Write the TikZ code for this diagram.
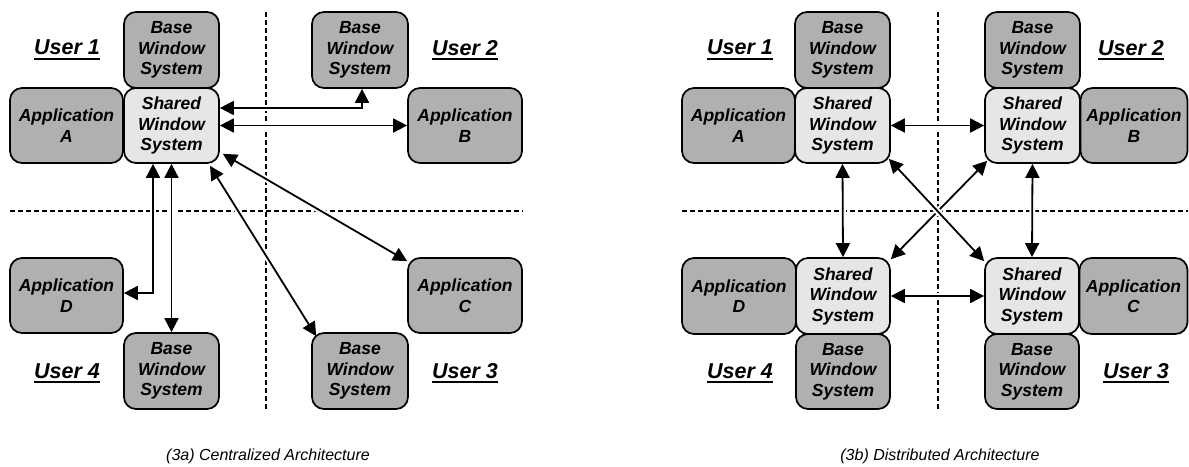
\documentclass[tikz,border=0pt]{standalone}
\usepackage{fontspec}
\setmainfont{Liberation Sans}
\newcommand\ulbox[1]{\setbox0\hbox{#1}\rlap{\raisebox{-4.8pt}{\rule{\wd0}{1.8pt}}}\box0}
\usetikzlibrary{arrows.meta}
\definecolor{boxdark}{RGB}{176,176,176}
\definecolor{boxlight}{RGB}{230,230,230}
\tikzset{
  box/.style={draw=black, line width=1.7pt, rounded corners=12pt, inner sep=0pt, align=center,
    font=\bfseries\itshape\fontsize{17.5}{20.5}\selectfont},
  darkbox/.style={box, fill=boxdark},
  lightbox/.style={box, fill=boxlight},
  userlbl/.style={font=\bfseries\itshape\fontsize{21.5}{24}\selectfont, inner sep=0pt},
  caption/.style={font=\itshape\fontsize{16}{18}\selectfont, inner sep=0pt, anchor=base},
  sep/.style={line width=2.8pt, dash pattern=on 5pt off 3pt},
  arr/.style={{Triangle[length=14pt,width=14pt]}-{Triangle[length=14pt,width=14pt]}, line width=1.8pt,
    preaction={draw=white, line width=6pt, arrows=-, shorten >=20pt, shorten <=20pt}},
}
\begin{document}
\begin{tikzpicture}[x=1pt,y=-1pt]
\useasboundingbox (0,0) rectangle (1189,466);
% separators
\draw[sep] (266,12) -- (266,410);
\draw[sep] (10,211) -- (523,211);
\draw[sep] (938,12) -- (938,410);
\draw[sep] (682,211) -- (1188,211);

% ---------- (3a) ----------
\node[darkbox, minimum width=95pt, minimum height=76pt] (bw1) at (171.5,50) {Base\\Window\\System};
\node[lightbox, minimum width=95pt, minimum height=75pt] (sh) at (171.5,125.5) {Shared\\Window\\System};
\node[darkbox, minimum width=113pt, minimum height=75pt] (appA) at (66.5,125.5) {Application\\A};
\node[darkbox, minimum width=96pt, minimum height=76pt] (bw2) at (360,50) {Base\\Window\\System};
\node[darkbox, minimum width=114pt, minimum height=75pt] (appB) at (465,125.5) {Application\\B};
\node[darkbox, minimum width=114pt, minimum height=75pt] (appC) at (465,295.5) {Application\\C};
\node[darkbox, minimum width=96pt, minimum height=76pt] (bw3) at (360,371) {Base\\Window\\System};
\node[darkbox, minimum width=113pt, minimum height=75pt] (appD) at (66.5,295.5) {Application\\D};
\node[darkbox, minimum width=95pt, minimum height=76pt] (bw4) at (171.5,371) {Base\\Window\\System};

\node[userlbl] (u1) at (67,50) {\ulbox{User 1}};
\node[userlbl] (u2) at (465,50) {\ulbox{User 2}};
\node[userlbl] (u3) at (465,373) {\ulbox{User 3}};
\node[userlbl] (u4) at (67,373) {\ulbox{User 4}};

\draw[arr] ([yshift=17.5pt]sh.east) -| ([xshift=2pt]bw2.south);
\draw[arr] (sh.east) -- (appB.west);
\draw[arr] ([xshift=3pt,yshift=10pt]sh.south east) -- ([yshift=-4pt]appC.north west);
\draw[arr] ([xshift=38.5pt,yshift=-2pt]sh.south) -- ([xshift=5pt,yshift=-4pt]bw3.north west);
\draw[arr] ([xshift=-18.5pt]sh.south) |- ([yshift=2.5pt]appD.east);
\draw[arr] (sh.south) -- (bw4.north);

\node[caption] (capa) at (268,460) {(3a) Centralized Architecture};

% ---------- (3b) ----------
\node[darkbox, minimum width=95pt, minimum height=76pt] (rbw1) at (842.5,50) {Base\\Window\\System};
\node[lightbox, minimum width=95pt, minimum height=75pt] (rsh1) at (842.5,125.5) {Shared\\Window\\System};
\node[darkbox, minimum width=113pt, minimum height=75pt] (rappA) at (738.5,125.5) {Application\\A};
\node[darkbox, minimum width=95pt, minimum height=76pt] (rbw2) at (1032.5,50) {Base\\Window\\System};
\node[lightbox, minimum width=95pt, minimum height=75pt] (rsh2) at (1032.5,125.5) {Shared\\Window\\System};
\node[darkbox, minimum width=107pt, minimum height=75pt] (rappB) at (1134,125.5) {Application\\B};
\node[lightbox, minimum width=94pt, minimum height=76pt] (rsh4) at (843,296) {Shared\\Window\\System};
\node[darkbox, minimum width=114pt, minimum height=76pt] (rappD) at (739,296) {Application\\D};
\node[darkbox, minimum width=94pt, minimum height=75pt] (rbw4) at (843,371.5) {Base\\Window\\System};
\node[lightbox, minimum width=94pt, minimum height=76pt] (rsh3) at (1032,296) {Shared\\Window\\System};
\node[darkbox, minimum width=108pt, minimum height=76pt] (rappC) at (1133.5,296) {Application\\C};
\node[darkbox, minimum width=94pt, minimum height=75pt] (rbw3) at (1032,371.5) {Base\\Window\\System};

\node[userlbl] (ru1) at (740,50) {\ulbox{User 1}};
\node[userlbl] (ru2) at (1131,50) {\ulbox{User 2}};
\node[userlbl] (ru3) at (1136,373) {\ulbox{User 3}};
\node[userlbl] (ru4) at (740,373) {\ulbox{User 4}};

\draw[arr] (rsh1.east) -- (rsh2.west);
\draw[arr] (rsh4.east) -- (rsh3.west);
\draw[arr] (rsh1.south) -- (rsh4.north);
\draw[arr] (rsh2.south) -- (rsh3.north);
\draw[arr] ([xshift=3pt,yshift=3pt]rsh2.south west) -- ([yshift=-2pt]rsh4.north east);
\draw[arr] ([xshift=-2pt,yshift=5pt]rsh1.south east) -- ([yshift=-4pt]rsh3.north west);

\node[caption] (capb) at (940,460) {(3b) Distributed Architecture};
\end{tikzpicture}
\end{document}
